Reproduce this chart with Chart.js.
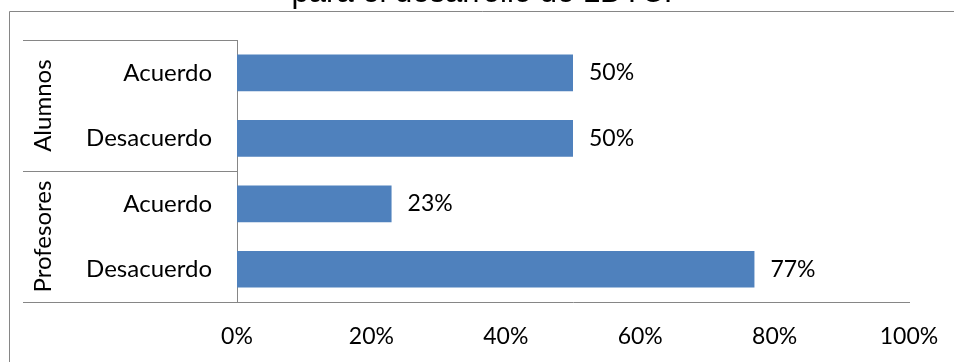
<!DOCTYPE html>
<html>
<head>
<meta charset="utf-8">
<script src="https://cdn.jsdelivr.net/npm/chart.js@4.4.0/dist/chart.umd.min.js"></script>
<style>
  html, body { margin: 0; padding: 0; background: #fff; }
  #wrap { position: relative; width: 954px; height: 362px; overflow: hidden; }
  #grafico { position: absolute; left: 0; top: -25px; }
</style>
</head>
<body>
<div id="wrap"><canvas id="grafico" width="954" height="387"></canvas></div>
<script>
/* datos del gráfico */
const titulo      = 'para el desarrollo de LDTC.';
const respuestas  = ['Acuerdo', 'Desacuerdo', 'Acuerdo', 'Desacuerdo'];
const grupos      = ['Alumnos', 'Profesores'];   // 2 respuestas por grupo
const porcentajes = [50, 50, 23, 77];
const ticksX      = [0, 20, 40, 60, 80, 100];

const AZUL    = '#4f81bd';
const GRIS    = '#868686';
const FUENTE  = 'Lato, "Open Sans", sans-serif';
const DESPL   = 25;           // parte del lienzo que queda por encima de la ventana
const EJE_IZQ = 237;          // borde izquierdo del área de barras
const PAD_IZQ = 55;
const PAD_DER = 45;

/* marco exterior, divisiones de grupo y etiquetas de grupo */
const marco = {
  id: 'marco',
  afterDraw(chart) {
    const { ctx, chartArea, scales: { y } } = chart;
    ctx.save();
    ctx.strokeStyle = GRIS;
    ctx.lineWidth = 1;

    // recuadro exterior (sale por la derecha y por abajo)
    ctx.beginPath();
    ctx.moveTo(9.5, chart.height + 5);
    ctx.lineTo(9.5, DESPL + 11.5);
    ctx.lineTo(chart.width + 5, DESPL + 11.5);
    ctx.stroke();

    // líneas entre grupos, a la izquierda del eje
    const bordes = [];
    for (let g = 0; g <= grupos.length; g++) bordes.push(y.getPixelForValue(g * 2 - 0.5));
    ctx.beginPath();
    bordes.forEach(b => {
      const yy = Math.round(b) + 0.5;
      ctx.moveTo(23, yy);
      ctx.lineTo(chartArea.left, yy);
    });
    ctx.stroke();

    // nombres de grupo, girados
    ctx.fillStyle = '#000';
    ctx.font = '24px ' + FUENTE;
    ctx.textAlign = 'center';
    ctx.textBaseline = 'alphabetic';
    grupos.forEach((nombre, g) => {
      const centro = (bordes[g] + bordes[g + 1]) / 2;
      ctx.save();
      ctx.translate(51, centro);
      ctx.rotate(-Math.PI / 2);
      ctx.fillText(nombre, 0, 0);
      ctx.restore();
    });
    ctx.restore();
  }
};

/* etiqueta de porcentaje a la derecha de cada barra */
const etiquetas = {
  id: 'etiquetas',
  afterDatasetsDraw(chart) {
    const { ctx } = chart;
    const barras = chart.getDatasetMeta(0).data;
    ctx.save();
    ctx.fillStyle = '#000';
    ctx.font = '23px ' + FUENTE;
    ctx.textAlign = 'left';
    ctx.textBaseline = 'middle';
    barras.forEach((b, i) => ctx.fillText(porcentajes[i] + '%', b.x + 16, b.y));
    ctx.restore();
  }
};

new Chart(document.getElementById('grafico'), {
  type: 'bar',
  data: {
    labels: respuestas,
    datasets: [{
      data: porcentajes,
      backgroundColor: AZUL,
      borderWidth: 0,
      categoryPercentage: 1,
      barPercentage: 0.56
    }]
  },
  plugins: [marco, etiquetas],
  options: {
    indexAxis: 'y',
    responsive: false,
    animation: false,
    devicePixelRatio: 1,
    layout: { padding: { left: PAD_IZQ, right: PAD_DER, top: 0, bottom: 0 } },
    plugins: {
      legend: { display: false },
      tooltip: { enabled: false },
      title: {
        display: true,
        text: titulo,
        color: '#000',
        font: { family: '"Liberation Sans", Arial, sans-serif', size: 31, weight: 'normal', lineHeight: 1.2 },
        padding: { top: 0, bottom: DESPL + 40 - 37 }
      }
    },
    scales: {
      x: {
        min: 0, max: 100,
        afterFit: s => { s.height = 60; s.paddingLeft = 0; s.paddingRight = 0; },
        afterBuildTicks: s => { s.ticks = ticksX.map(v => ({ value: v })); },
        grid: { display: false, drawTicks: false },
        border: { display: true, color: GRIS, width: 1 },
        ticks: {
          padding: 21,
          color: '#000',
          font: { family: FUENTE, size: 23 },
          callback: v => v + '%'
        }
      },
      y: {
        afterFit: s => { s.width = EJE_IZQ - PAD_IZQ; },
        grid: { display: false, drawTicks: false },
        border: { display: true, color: GRIS, width: 1 },
        ticks: {
          padding: 25,
          color: '#000',
          font: { family: FUENTE, size: 24 }
        }
      }
    }
  }
});
</script>
</body>
</html>
